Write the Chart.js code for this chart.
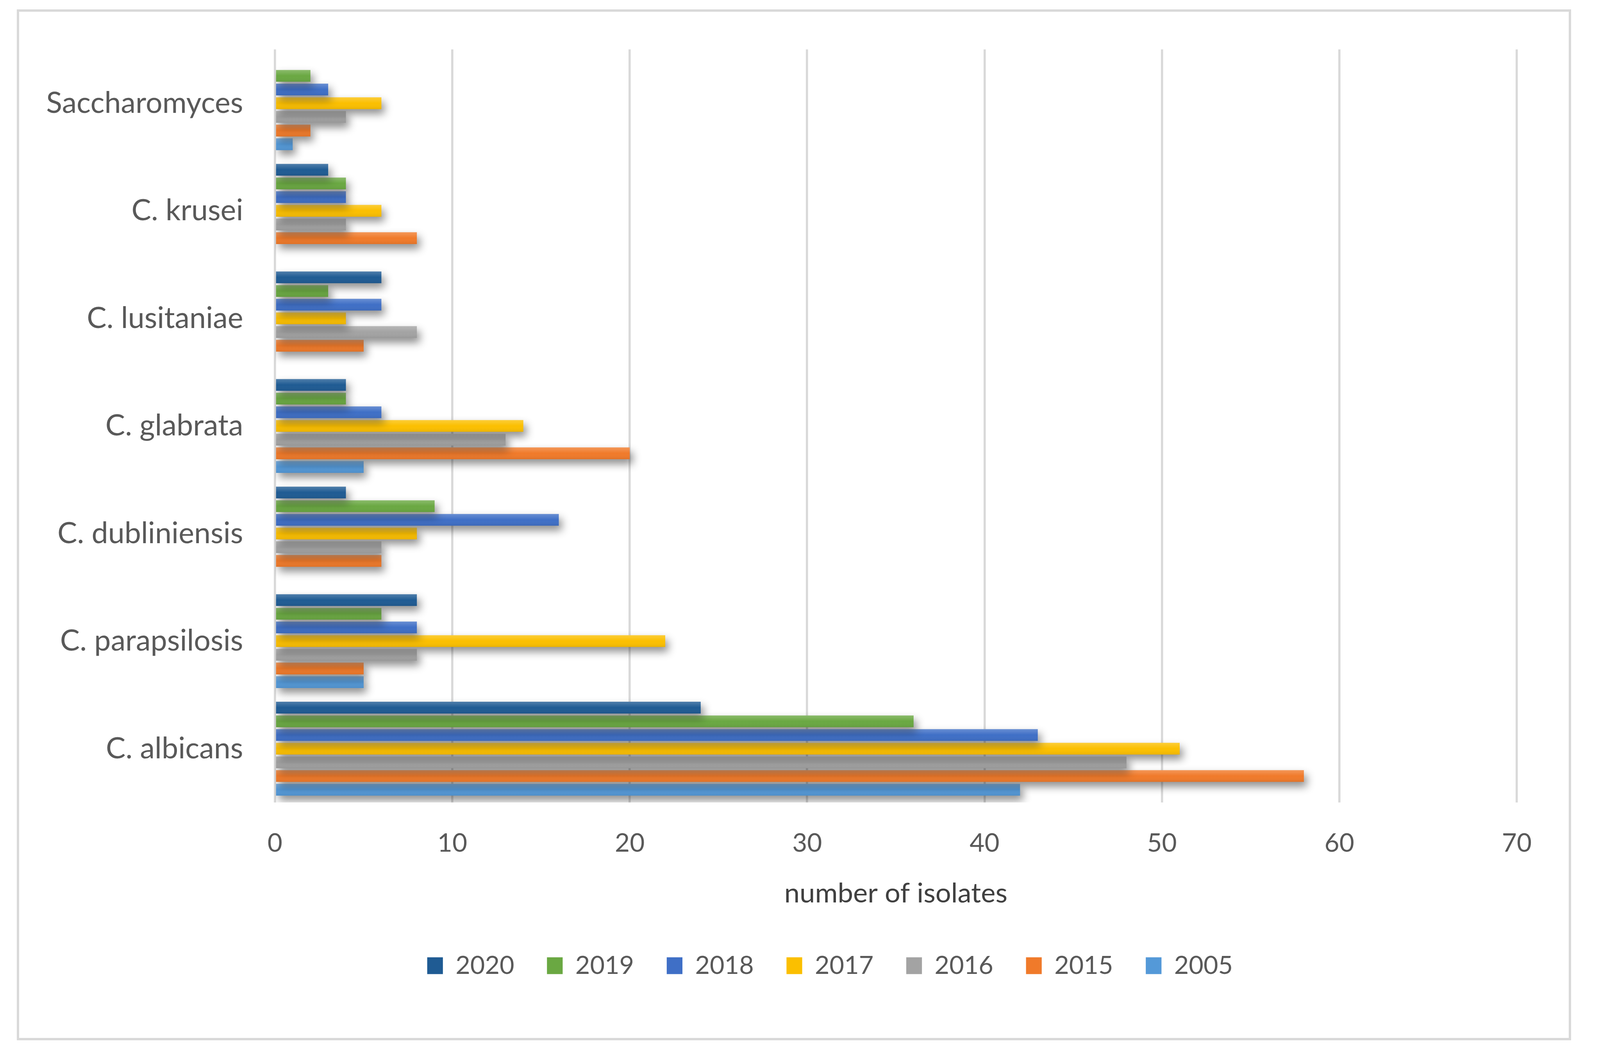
<!DOCTYPE html>
<html>
<head>
<meta charset="utf-8">
<script src="https://cdn.jsdelivr.net/npm/chart.js@4.4.0/dist/chart.umd.min.js"></script>
<style>
    html, body { margin: 0; padding: 0; background: #ffffff; overflow: hidden; }
    #marco { position: absolute; box-sizing: border-box; border: 6px solid #d9d9d9; }
    #caja { position: absolute; left: 0; top: 0; width: 100vw; height: 100vh; }
</style>
</head>
<body>
<div id="marco"></div>
<div id="caja"><canvas id="grafico"></canvas></div>
<script>
// datos
const especies = ['Saccharomyces', 'C. krusei', 'C. lusitaniae', 'C. glabrata', 'C. dubliniensis', 'C. parapsilosis', 'C. albicans'];
const anios = ['2020', '2019', '2018', '2017', '2016', '2015', '2005'];
const casos2020 = [0, 3, 6, 4, 4, 8, 24];
const casos2019 = [2, 4, 3, 4, 9, 6, 36];
const casos2018 = [3, 4, 6, 6, 16, 8, 43];
const casos2017 = [6, 6, 4, 14, 8, 22, 51];
const casos2016 = [4, 4, 8, 13, 6, 8, 48];
const casos2015 = [2, 8, 5, 20, 6, 5, 58];
const casos2005 = [1, 0, 0, 5, 0, 5, 42];
const ejeMin = 0;
const ejeMax = 70;
const ejePaso = 10;

const series = [casos2020, casos2019, casos2018, casos2017, casos2016, casos2015, casos2005];
const colores = ['#1f5b93', '#6aa842', '#3f6fc6', '#fbbf00', '#a3a3a3', '#f07a2a', '#5499d8'];

// medidas tomadas sobre una imagen de 4382 x 2694, se escalan a la ventana real
const W = window.innerWidth;
const H = window.innerHeight;
const sx = W / 4382;
const sy = H / 2694;
const sf = (sx + sy) / 2;

const marco = document.getElementById('marco');
marco.style.left = (46 * sx) + 'px';
marco.style.top = (24 * sy) + 'px';
marco.style.width = ((4303 - 46) * sx) + 'px';
marco.style.height = ((2664 - 24) * sy) + 'px';

const fuente = 'Lato';
const tamCategoria = 78 * sf;
const tamTicks = 68 * sf;
const tamTitulo = 73 * sf;
const tamLeyenda = 67 * sf;

const areaIzq = 753 * sx, areaDer = 4154 * sx, areaArriba = 123 * sy, areaAbajo = 2055 * sy;
const ticksY = 2160 * sy;
const tituloY = 2288 * sy;
const leyendaY = 2473 * sy;
const leyendaX = 1170 * sx;

// separacion de la leyenda para que cada item ocupe lo mismo que en el original
const medidor = document.createElement('canvas').getContext('2d');
medidor.font = tamLeyenda + 'px ' + fuente;
const cajaLeyenda = 43 * sx;
const anchoTexto = medidor.measureText('2020').width;
const padLeyenda = Math.max(10, 328 * sx - cajaLeyenda - tamLeyenda / 2 - anchoTexto);

const altoLeyenda = tamLeyenda + padLeyenda + 10;
const padIzq = 60 * sx;
const padDer = W - areaDer;
const padTituloAbajo = 10;
const ejeXAbajo = tituloY + tamTitulo * 1.2 / 2 + padTituloAbajo;
const padAbajo = H - altoLeyenda - ejeXAbajo;

// sombra estilo excel debajo de las barras
const sombra = {
    id: 'sombra',
    beforeDatasetsDraw(chart) {
        const ctx = chart.ctx;
        ctx.save();
        ctx.shadowColor = 'rgba(0, 0, 0, 0.45)';
        ctx.shadowBlur = 22 * sf;
        ctx.shadowOffsetX = 8 * sx;
        ctx.shadowOffsetY = 12 * sy;
    },
    afterDatasetsDraw(chart) {
        chart.ctx.restore();
    }
};

// brillo suave arriba de cada barra, como el degradado de excel
const brillo = {
    id: 'brillo',
    afterDatasetsDraw(chart) {
        const ctx = chart.ctx;
        ctx.save();
        chart.data.datasets.forEach((ds, i) => {
            chart.getDatasetMeta(i).data.forEach(barra => {
                const p = barra.getProps(['x', 'y', 'base', 'height'], true);
                const ancho = Math.abs(p.x - p.base);
                if (!ancho) return;
                const arriba = p.y - p.height / 2;
                const g = ctx.createLinearGradient(0, arriba, 0, arriba + p.height);
                g.addColorStop(0, 'rgba(255, 255, 255, 0.22)');
                g.addColorStop(0.5, 'rgba(255, 255, 255, 0)');
                g.addColorStop(1, 'rgba(0, 0, 0, 0.07)');
                ctx.fillStyle = g;
                ctx.fillRect(Math.min(p.x, p.base), arriba, ancho, p.height);
            });
        });
        ctx.restore();
    }
};

// la leyenda del original no esta centrada en el grafico, la movemos
const moverLeyenda = {
    id: 'moverLeyenda',
    afterLayout(chart) {
        const L = chart.legend;
        if (!L || !L.lineWidths) return;
        const inicio = (L.left + padLeyenda + L.right - L.lineWidths[0]) / 2;
        const dx = leyendaX - inicio;
        const dy = (leyendaY - padLeyenda - tamLeyenda / 2) - L.top;
        L.left += dx; L.right += dx;
        L.top += dy; L.bottom += dy;
    }
};

const ctx = document.getElementById('grafico').getContext('2d');
const myChart = new Chart(ctx, {
    type: 'bar',
    data: {
        labels: especies,
        datasets: series.map((valores, i) => ({
            label: anios[i],
            data: valores,
            backgroundColor: colores[i],
            borderWidth: 0,
            categoryPercentage: 0.89,
            barPercentage: 0.86
        }))
    },
    options: {
        indexAxis: 'y',
        responsive: true,
        maintainAspectRatio: false,
        animation: false,
        layout: {
            padding: { left: padIzq, right: padDer, top: areaArriba, bottom: padAbajo }
        },
        scales: {
            x: {
                min: ejeMin,
                max: ejeMax,
                ticks: {
                    stepSize: ejePaso,
                    padding: ticksY - areaAbajo - tamTicks * 1.2 / 2,
                    color: '#595959',
                    font: { family: fuente, size: tamTicks }
                },
                grid: { color: '#d9d9d9', lineWidth: 6 * sx, drawTicks: false },
                border: { display: false },
                title: {
                    display: true,
                    text: 'number of isolates',
                    color: '#404040',
                    font: { family: fuente, size: tamTitulo },
                    padding: { top: 0, bottom: padTituloAbajo }
                },
                afterFit(scale) { scale.height = ejeXAbajo - areaAbajo; }
            },
            y: {
                ticks: {
                    padding: 87 * sx,
                    color: '#595959',
                    font: { family: fuente, size: tamCategoria }
                },
                grid: { display: false, drawTicks: false },
                border: { display: false },
                afterFit(scale) { scale.width = areaIzq - padIzq; }
            }
        },
        plugins: {
            legend: {
                position: 'bottom',
                labels: {
                    boxWidth: cajaLeyenda,
                    boxHeight: 43 * sy,
                    padding: padLeyenda,
                    color: '#595959',
                    font: { family: fuente, size: tamLeyenda }
                }
            },
            tooltip: { enabled: false }
        }
    },
    plugins: [sombra, brillo, moverLeyenda]
});
</script>
</body>
</html>
